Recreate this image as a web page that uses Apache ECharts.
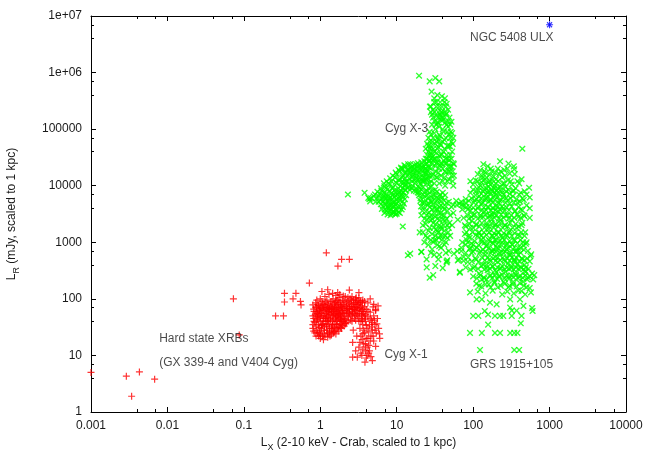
<!DOCTYPE html>
<html><head><meta charset="utf-8">
<script src="https://cdn.jsdelivr.net/npm/echarts@6/dist/echarts.min.js"></script>
<style>html,body{margin:0;padding:0;background:#fff}#c{width:646px;height:451px}</style>
</head><body><div id="c"></div>
<script>
var xTickLabels = ['0.001','0.01','0.1','1','10','100','1000','10000'];
var yTickLabels = ['1','10','100','1000','10000','100000','1e+06','1e+07'];

var hardState = [
[0.001,5],[0.0029,4.3],[0.0043,5.1],[0.0068,3.8],[0.0034,1.9],[0.073,100],[0.087,23],
[0.26,50],[0.33,50],[0.34,125],[0.48,125],[0.34,88],[0.44,100],[0.55,90],[0.56,78],[0.72,190],
[1.2,650],[1.7,380],[1.9,500],[2.4,500],[1.05,135],[1.25,145],[1.69,129],[2.4,143],[3.2,129]
];
var cygX1 = [
[0.8,30],[0.82,45],[0.83,60],[0.85,38],[0.86,52],[0.88,70],[0.9,28],[0.9,42],[0.92,55],[0.93,80],
[0.95,35],[0.96,48],[0.97,65],[0.98,25],[1.0,40],[1.0,58],[1.02,75],[1.03,30],[1.05,50],[1.05,90],
[1.07,22],[1.08,36],[1.1,45],[1.1,62],[1.12,80],[1.13,28],[1.15,55],[1.16,40],[1.18,70],[1.2,33],
[1.2,48],[1.22,95],[1.24,25],[1.25,60],[1.27,42],[1.28,78],[1.3,35],[1.3,52],[1.32,68],[1.34,22],
[1.35,45],[1.37,88],[1.4,30],[1.4,58],[1.42,72],[1.45,40],[1.45,50],[1.47,100],[1.5,26],[1.5,65],
[1.52,82],[1.55,36],[1.55,55],[1.58,46],[1.6,70],[1.62,92],[1.65,30],[1.65,60],[1.68,42],[1.7,78],
[1.72,52],[1.75,105],[1.78,35],[1.8,65],[1.82,88],[1.85,48],[1.88,58],[1.9,72],[1.92,40],[1.95,95],
[2.0,55],[2.0,80],[2.05,45],[2.1,66],[2.12,110],[2.15,36],[2.2,75],[2.25,58],[2.3,90],[2.35,48],
[2.4,68],[2.45,100],[2.5,42],[2.55,80],[2.6,60],[2.65,52],[2.7,95],[2.75,72],[2.8,45],[2.85,85],
[2.9,62],[2.95,105],[3.0,55],[3.05,78],[3.1,92],[3.2,48],[3.25,68],[3.3,85],[3.4,40],[3.45,60],
[3.5,75],[3.6,95],[0.85,25],[0.95,22],[1.0,20],[1.1,19],[1.25,21],[1.4,23],[1.6,24],[1.75,27],
[1.9,30],[2.05,33],[2.2,38],[1.3,60],[1.4,65],[1.5,60],[1.6,52],[1.7,62],[1.8,55],[1.2,65],
[1.1,70],[1.0,68],[0.9,60],[1.35,75],[1.55,78],[1.75,85],[1.95,68],[2.2,62],[2.4,55],[2.6,72],
[2.8,65],[3.0,70],[1.25,40],[1.45,35],[1.65,48],[1.85,42],[1.05,35],[0.92,48],
[0.9,95],[1.0,100],[1.15,110],[1.3,120],[1.45,125],[1.6,115],[1.8,120],[2.0,112],[2.3,105],[2.6,110],
[2.9,100],[3.2,104],[0.8,78],[0.87,85],[0.95,76],[1.07,84],[1.18,88],[1.25,82],[1.42,90],[1.58,86],
[1.68,95],[1.85,78],[2.05,92],[2.2,86],[2.38,82],[2.55,95],[2.72,85],[2.95,88],[3.15,80],[3.35,92],
[3.55,86],[0.82,66],[0.89,72],[0.98,62],[1.06,66],[1.14,74],[1.23,70],[1.33,64],[1.44,68],[1.53,72],
[1.63,66],[1.73,70],[1.86,74],[1.98,62],[2.1,72],[2.28,68],[2.45,74],[2.62,66],[2.85,72],[3.1,64],
[3.35,70],[3.6,66],[3.8,72],[0.8,50],[0.88,56],[0.96,52],[1.04,56],[1.12,50],[1.2,54],[1.28,58],
[1.38,52],[1.48,56],[1.6,50],[1.7,56],[1.82,52],[1.95,56],[2.08,50],[2.22,54],[2.38,58],[2.52,50],
[2.68,56],[2.85,52],[3.05,50],[3.25,56],[3.5,52],[3.75,50],[0.83,40],[0.91,44],[1.0,46],[1.09,41],
[1.17,45],[1.26,47],[1.36,42],[1.5,44],[1.62,40],[1.75,45],[1.9,43],[2.0,40],[2.12,44],[2.3,42],
[2.6,40],[2.9,42],[3.2,40],[3.55,42],[3.85,44],[0.8,35],[0.88,33],[0.97,31],[1.05,34],[1.13,32],
[1.22,36],[1.32,30],[1.42,33],[1.52,31],[1.62,35],[1.72,32],[1.85,36],[1.95,34],[2.1,37],[0.82,27],
[0.92,25],[1.02,27],[1.12,24],[1.22,28],[1.32,26],[1.45,28],[1.55,27],[1.7,29],[1.85,31],[0.88,22],
[1.0,23],[1.15,22],[1.3,24],[1.5,25],
[3.3,30],[3.5,45],[3.6,35],[3.7,55],[3.8,25],[3.9,40],[4.0,65],[4.0,20],[4.1,30],[4.2,48],
[4.3,15],[4.4,35],[4.5,58],[4.6,22],[4.7,42],[4.8,28],[4.9,72],[5.0,18],[5.0,50],[5.2,35],
[5.3,62],[5.4,25],[5.6,45],[5.8,30],[5.95,24],[6.0,20],[3.53,19],[3.6,12.9],[3.84,7.6],[4.8,8.1],
[3.05,9.3],[2.65,9.3],[2.65,17],[5.3,14.5],[3.4,11],[3.7,16],[4.1,10],[4.4,12],[4.6,9.5],[3.2,14],
[2.9,12],[3.0,22],[2.7,28],[5.0,80],[5.3,65],[4.2,85],[3.8,90],[1.83,46],[2.43,65],[4.5,100],
[5.7,75],[4.0,9],[3.3,17],[3.6,60],[3.9,52],[4.2,60],[4.5,45],[4.8,38],[4.3,26],[4.7,32],[5.1,42],
[5.5,36],[4.0,34],[3.7,28],[3.9,16],[4.2,20],[4.5,18],[4.9,22],[5.2,28],[3.4,22],[3.6,24],[4.1,14],
[3.5,10],[3.9,12],[4.3,11]
];
var cygX3 = [
[2.3,7000],[3.8,7500],[4.25,6100],[4.5,5300],[4.4,5800],[4.6,6000],
[5.0,6500],[5.3,5200],[5.6,7800],[5.8,5200],[6.2,4700],[6.0,7200],[6.5,6000],[6.8,7500],[7,5000],
[7.2,9000],[7.5,4200],[7.5,6500],[7.8,11000],[8,3600],[8,5500],[8.2,8000],[8.5,4500],[8.5,12000],
[8.8,3400],[8.8,6800],[9,9500],[9.2,5000],[9.5,14000],[9.5,3800],[9.8,7500],[10,11000],[10,16000],
[10.5,6000],[10.5,9000],[11,13000],[11,18000],[11.5,8000],[11.5,11500],[12,15000],[12,20000],
[12.5,10000],[13,13500],[13,17000],[13.5,12000],[14,19000],[14,15500],[15,13000],[15,18000],
[15.5,21000],[16,14500],[16.5,17000],[17,12500],[17,20000],[18,15000],[18.5,18500],[19,13000],
[19,22000],[20,16000],[20.5,11000],[21,19000],[22,14000],[22,23000],[23,12000],[24,17000],
[7,3800],[7.8,4000],[9,4400],[10,4800],[11,5500],[12,6500],[13,8500],[11,3300],[12,4200],[10,3200],
[5.2,7000],[5.5,6000],[5.8,6600],[6.1,5600],[6.3,8200],[6.6,4400],[6.7,6800],[6.9,9800],[7.1,5800],
[7.3,7200],[7.4,3600],[7.6,8600],[7.7,5300],[7.9,4700],[8.1,10500],[8.3,6200],[8.4,3900],[8.6,7400],
[8.7,9000],[8.9,5200],[9.1,3500],[9.3,6300],[9.4,8400],[9.6,4600],[9.7,11500],[9.9,5700],[10.2,7000],
[10.4,4200],[10.6,12500],[10.8,7800],[11.2,9800],[11.4,6600],[10.1,3700],[9.2,3300],[8.6,3200],
[6.4,3900],[6.9,3300],[7.6,3100],[8.3,3000],[9.6,3100],[10.6,3400],[11.6,3800],[12.4,4800],[12.8,5800],
[13.3,6800],[12.2,7600],[11.1,4300],[11.9,5300],[10.9,6400],[11.7,7200],[10.3,5300],[9.4,4300],
[8.1,4400],[7.2,4600],[6.6,5200],[7.0,6300],[7.9,6000],[8.7,5800],[9.7,6700],[10.7,7500],[12.8,8400],
[13.8,9200],[14.8,8500],[15.8,9000],[16.8,8200],[17.8,8000],[18.8,7600],[19.6,6800],[20.4,5400],
[20.8,4300],[21.6,3600],[6.2,9000],[6.8,11000],[7.4,12000],[8.2,13500],[8.9,15000],[9.7,17000],
[10.6,19000],[11.4,21000],[12.6,23000],[14.1,24000],[16,22000],[18,24000],[20,23000],[22,21000],
[24,24000],[26,27000],[28,30000],
[11.8,14000],[12.3,11500],[12.7,16500],[13.2,12000],[13.6,19000],[14.2,11000],[14.6,16000],
[15.2,20000],[15.8,12000],[16.2,15500],[16.8,19500],[17.4,11000],[17.8,16500],[18.2,13500],
[18.8,20500],[19.4,11500],[19.8,17500],[20.4,14000],[21,21000],[21.5,12000],[22.5,16500],[23.5,20000],
[24.5,13000],[25,19000],[26,15000],[26.5,21000],[27,11000],[12,9000],[13,10500],[14.5,9500],[16,10000],
[18,9000],[19.5,9500],[11.5,20000],[13,22000],[15,24000],[17,23000],[19,25000],[21,26000],[23,27000],
[25,30000],[27,28000],[29,32000],
[20,9000],[22,7000],[23,5000],[24,3500],[25,8000],[25,2500],[26,6000],[27,4200],[27,1800],[28,9500],
[28,3000],[29,5200],[29,1400],[30,7000],[30,2200],[31,4000],[31,1100],[32,8500],[32,2800],[33,1700],
[34,5500],[34,900],[35,3300],[36,2000],[36,6500],[37,1300],[38,4500],[38,800],[40,2500],[40,7500],
[42,1600],[42,3800],[44,1000],[45,5000],[46,2000],[48,700],[50,3000],[22,2000],[24,1300],[26,900],
[28,650],[23,1000],[21,3000],[26,4800],[33,3900],[35,1500],[29,2600],[39,1100],[43,2400],
[19.5,7500],[20.5,6000],[21,8500],[21.5,5000],[22,9500],[22.5,4200],[23,6500],[23.5,8000],[24,5500],
[24.5,3000],[25,6800],[25.5,4500],[26,9000],[26.5,3400],[27,7500],[27.5,5400],[28,2400],[28.5,6200],
[29,3800],[29.5,8200],[30,4600],[30.5,1800],[31,5800],[31.5,3200],[32,6800],[32.5,2100],[33,4800],
[33.5,7800],[34,2600],[34.5,3800],[35,5800],[35.5,1200],[36,4200],[36.5,2500],[37,7000],[37.5,3300],
[38,5300],[38.5,1700],[39,3000],[39.5,6200],[40,4200],[41,2000],[41.5,5500],[42,3000],[43,6800],
[43,1300],[44,4300],[45,2600],[46,3600],[47,1500],[48,5200],[49,2200],[50,1300],[52,4200],[53,2000],
[55,3300],[24,2100],[26,1600],[27,2800],[25,1200],[30,1000],[32,1300],[34,1600],[36,850],[29,750],
[31,600],[33,1100],[38,1900],[40,1300],[42,900],[44,650],[46,1200],[48,1800],[35,500],[28,1100],
[22,1500],[23,2600],
[20,1500],[14,590],[21,670],[27,237],[32,380],[45,460],[24.7,360],[24.6,500],[30,263],[46,480],
[15,630],[21,680],[12,1900],[36,600],[40,350],
[22,12000],[24,16000],[25,25000],[26,13000],[27,35000],[28,20000],[28,50000],[29,15000],[30,28000],
[30,70000],[31,40000],[32,18000],[32,100000],[33,25000],[33,60000],[34,14000],[34,45000],[35,130000],
[35,30000],[36,80000],[36,20000],[37,55000],[38,35000],[38,160000],[39,24000],[40,100000],[40,12000],
[41,40000],[42,65000],[43,18000],[44,30000],[45,120000],[46,50000],[47,22000],[48,80000],[50,35000],
[52,15000],[55,10000],[27,90000],[29,120000],[31,200000],[33,250000],[35,200000],[37,180000],
[39,250000],[42,300000],[28,250000],[30,160000],[44,180000],[47,140000],[52,60000],[55,25000],
[50,120000],[26,70000],[24,45000],[43,10000],[48,13000],[52,135000],[56,24000],
[23,14000],[25,11000],[25,18000],[26,22000],[27,15000],[27,28000],[28,12000],[28,38000],[29,24000],
[29,60000],[30,16000],[30,45000],[31,11000],[31,30000],[31,85000],[32,22000],[32,55000],[33,14000],
[33,38000],[33,120000],[34,26000],[34,70000],[35,17000],[35,48000],[36,11000],[36,34000],[36,110000],
[37,23000],[37,75000],[38,15000],[38,52000],[39,36000],[39,140000],[40,20000],[40,60000],[41,28000],
[41,90000],[42,14000],[42,45000],[43,25000],[43,130000],[44,17000],[44,70000],[45,35000],[46,12000],
[46,90000],[47,30000],[48,18000],[48,50000],[50,22000],[50,70000],[52,30000],[54,18000],[45,25000],
[38,25000],[32,30000],[29,35000],[35,65000],[41,150000],[36,160000],[33,170000],[39,200000],
[30,220000],[44,250000],[37,300000],[34,130000],[47,110000],[49,160000],
[24,20000],[25,35000],[26,50000],[27,60000],[28,80000],[53,40000],[54,55000],[55,70000],[51,90000],
[50,50000],[53,85000],[24,30000],[26,40000],[25,55000],[27,45000],[48,28000],[50,18000],[52,22000],
[54,12000],[56,15000],[29,180000],[31,140000],[33,300000],[36,250000],[38,200000],[40,160000],
[42,200000],[45,280000],[34,400000],[39,380000],[31,300000],[28,200000],[47,220000],
[19.6,880000],[27,700000],[32,800000],[36,700000],[28.6,460000],[31,350000],[27.2,250000],
[42.7,350000],[45,190000]
];
var grs1915 = [
[440,45000],[136,24000],[225,27000],[290,24600],[345,19500],[340,22000],[430,13000],[400,11000],
[330,8000],[540,9200],[550,6200],[550,4000],[550,2700],[490,940],[575,610],[590,280],[630,263],
[590,69],[550,155],[63,2500],[56,630],[63,480],[67,300],[92,12000],[60,5400],
[55,4600],[61,4600],[66,4800],[71,4600],[75,4400],[80,5000],[85,3800],[90,4200],
[78,2000],[82,1500],[88,2600],[92,1800],[96,2400],[85,1000],[92,800],
[100,3000],[105,5500],[110,8000],[110,2000],[115,12000],[115,4000],[120,1500],[120,6500],[125,10000],
[125,2800],[130,15000],[130,4800],[135,8000],[135,1200],[140,3500],[140,18000],[145,6000],[145,11000],
[150,2200],[150,14000],[155,4200],[155,7500],[160,1700],[160,9500],[165,3000],[165,12000],[170,5500],
[170,20000],[175,2500],[175,8500],[180,4000],[180,1300],[185,6500],[190,10000],[190,3200],[195,2000],
[200,7000],[200,13000],[205,4500],[210,1500],[210,9000],[215,3500],[220,5500],[220,16000],
[230,2500],[240,7500],[240,1200],[250,4000],[255,11000],[260,2000],[270,6000],[275,900],[280,3000],
[290,8500],[300,1600],[300,4800],[310,12000],[320,2500],[330,6500],[340,1100],[350,3500],[360,9000],
[370,1800],[380,5000],[390,2800],[400,7000],[410,1300],[420,3800],[430,2000],[440,6000],[450,1000],
[460,3000],[480,1500],[500,4500],[470,8000],[260,15000],[230,18000],[280,20000],[350,16000],[300,600],
[380,700],
[70,700],[75,550],[80,900],[85,450],[90,1200],[95,650],[100,350],[100,900],[110,500],[115,1300],
[120,280],[125,700],[130,1000],[135,400],[140,230],[145,600],[150,850],[155,320],[160,1100],[165,500],
[170,260],[175,700],[180,380],[185,950],[190,200],[195,550],[200,300],[205,800],[210,450],[215,250],
[220,650],[230,350],[240,1000],[250,200],[255,500],[265,300],[275,750],[285,420],[295,250],[305,600],
[315,350],[325,900],[335,200],[345,500],[355,280],[365,700],[375,400],[390,600],[400,250],[415,800],
[425,350],[440,500],[450,200],[470,400],[490,300],[510,220],[160,180],[120,170],[210,160],[300,170],
[130,220],[180,700],[250,650],[350,450],[280,1300],[200,1100],[105,750],[150,400],
[115,16000],[125,19000],[135,14000],[145,17000],[155,22000],[165,15500],[175,18000],[185,14500],
[195,17000],[210,20000],[240,14000],[255,19000],[300,16500],
[100,10500],[108,12500],[118,9500],[128,11500],[138,12500],[148,9000],[158,11500],[168,10500],
[178,12500],[188,9000],[198,11000],[212,12000],[228,9500],[245,11000],[265,9500],[285,12500],
[320,10500],[380,12000],
[92,7500],[100,8500],[108,6800],[118,8200],[128,7200],[138,8800],[148,7000],[158,8200],[168,7000],
[178,8000],[192,7600],[205,8200],[218,7200],[232,8600],[250,7000],[270,8000],[300,7200],[340,8200],
[420,7500],[500,7000],
[70,5200],[80,5800],[88,5400],[95,6000],[102,5000],[110,5800],[118,5200],[126,6000],[134,5000],
[142,5600],[150,6200],[160,5200],[170,5800],[180,5000],[192,5600],[205,6200],[218,5000],[232,5600],
[248,6200],[265,5000],[285,5600],[310,6000],[340,5000],[370,5800],[410,5200],[460,5600],
[72,3800],[82,4200],[92,3600],[100,4100],[108,3700],[118,4300],[128,3600],[138,4100],[148,3700],
[158,4200],[170,3600],[182,4100],[195,3700],[208,4200],[222,3800],[238,4300],[255,3600],[275,4100],
[295,3700],[320,4300],[355,3600],[395,4200],[440,3700],
[75,2700],[85,3000],[95,2800],[105,3100],[115,2600],[125,3000],[135,2800],[145,3100],[155,2700],
[165,2900],[178,3100],[190,2700],[202,3000],[216,2600],[232,3100],[250,2700],[268,3000],[290,2600],
[315,3000],[345,2700],[380,3100],[420,2700],[470,2900],
[80,1900],[90,2100],[100,1800],[110,2100],[120,1900],[130,2200],[140,1800],[150,2000],[162,1900],
[174,2200],[186,1800],[198,2100],[212,1900],[228,2200],[244,1800],[262,2000],[282,1900],[305,2200],
[330,1800],[360,2100],[395,1900],[440,2200],
[78,1400],[88,1300],[98,1500],[108,1350],[118,1450],[128,1300],[138,1500],[150,1350],[162,1500],
[175,1300],[188,1450],[202,1350],[218,1500],[235,1300],[252,1450],[272,1350],[295,1500],[320,1300],
[350,1450],[385,1350],[425,1500],[470,1300],
[72,1000],[82,1100],[95,950],[105,1050],[118,900],[128,1100],[140,980],[152,900],[165,1050],
[178,980],[192,1100],[206,920],[222,1050],[238,880],[256,1100],[278,950],[300,1050],[325,900],
[352,1080],[380,960],[415,1100],[455,880],[500,1000],
[62,700],[70,800],[80,650],[90,760],[100,680],[112,800],[122,650],[134,740],[146,680],[158,780],
[170,640],[184,750],[198,680],[212,790],[228,640],[246,740],[264,680],[284,800],[306,650],[330,760],
[356,690],[385,800],[420,650],[460,740],[520,700],
[65,500],[75,470],[86,540],[96,460],[106,520],[118,450],[130,540],[142,480],[155,530],[168,460],
[182,520],[196,470],[210,540],[226,480],[242,530],[260,460],[280,520],[300,470],[322,540],[346,480],
[372,530],[400,460],[432,520],[468,480],[510,520],[550,460],
[80,360],[92,330],[104,370],[116,340],[128,380],[140,330],[152,360],[166,340],[180,370],[194,320],
[208,360],[224,340],[240,380],[258,330],[276,360],[296,340],[318,380],[340,330],[364,360],[390,340],
[420,370],[455,330],[490,360],[530,340],
[100,250],[112,230],[124,260],[138,240],[150,220],[164,255],[178,235],[192,265],[206,225],[222,250],
[238,270],[256,230],[274,255],[294,225],[316,260],[338,240],[362,265],[388,230],[416,255],[446,235],
[480,260],[520,240],
[110,185],[128,165],[145,180],[170,160],[190,190],[230,170],[260,185],[290,160],[330,180],[370,165],
[410,190],[460,170],[500,160],
[115,135],[145,125],[180,140],[240,120],[280,135],[340,125],[390,140],[480,120],
[45,440],[67,290],[91,130],[111,98],[130,98],[166,86],[203,80],[305,98],[410,98],[142,61],[157,53],
[100,50],[117,50],[193,50],[225,50],[248,50],[320,50],[430,50],[320,62],[370,62],[157,35],[420,37],
[600,61],[455,75],[91,25],[130,25],[193,25],[225,25],[305,25],[345,25],[380,25],[123,12.5],
[345,12.5],[400,12.5],[560,570],[550,250],[610,220],[475,310],[430,138],[305,70],[570,130]
];
var ulx = [[1000,7000000]];

var annotations = [
  {name:'NGC 5408 ULX', value:[91,4.1e6]},
  {name:'Cyg X-3', value:[7.0,1.03e5]},
  {name:'Hard state XRBs', value:[0.0078,19.5]},
  {name:'(GX 339-4 and V404 Cyg)', value:[0.0078,7.4]},
  {name:'Cyg X-1', value:[6.9,10.2]},
  {name:'GRS 1915+105', value:[91,6.8]}
];

var PLUS = 'path://M-0.6,-3.5L0.6,-3.5L0.6,-0.6L3.5,-0.6L3.5,0.6L0.6,0.6L0.6,3.5L-0.6,3.5L-0.6,0.6L-3.5,0.6L-3.5,-0.6L-0.6,-0.6Z';
var FONT = '"Liberation Sans", Arial, sans-serif';
var TXT = '#1a1a1a';

function xFmt(v){ return xTickLabels[Math.round(Math.log10(v))+3]; }
function yFmt(v){ return yTickLabels[Math.round(Math.log10(v))]; }

var baseX = {type:'log', logBase:10, min:0.001, max:10000, splitNumber:7,
  axisLine:{show:true,lineStyle:{color:'#000',width:1}},
  axisTick:{show:true,inside:true,length:5,lineStyle:{color:'#000'}},
  minorTick:{show:true,splitNumber:3,length:3,lineStyle:{color:'#000'}},
  splitLine:{show:false}, minorSplitLine:{show:false}};
var baseY = {type:'log', logBase:10, min:1, max:1e7, splitNumber:7,
  axisLine:{show:true,lineStyle:{color:'#000',width:1}},
  axisTick:{show:true,inside:true,length:5,lineStyle:{color:'#000'}},
  minorTick:{show:true,splitNumber:3,length:3,lineStyle:{color:'#000'}},
  splitLine:{show:false}, minorSplitLine:{show:false}};

var chart = echarts.init(document.getElementById('c'), null, {renderer:'canvas'});
chart.setOption({
  animation:false,
  backgroundColor:'#fff',
  grid:{left:91,right:20,top:16,bottom:39,containLabel:false,outerBoundsMode:'none'},
  xAxis:[
    Object.assign({}, baseX, {position:'bottom',
      name:'{a|L}{s|X}{a| (2-10 keV - Crab, scaled to 1 kpc)}', nameLocation:'middle', nameGap:20,
      nameTextStyle:{rich:{a:{fontFamily:FONT,fontSize:12,color:TXT},s:{fontFamily:FONT,fontSize:9,color:TXT,padding:[9,0,0,0]}}},
      axisLabel:{show:true,formatter:xFmt,fontFamily:FONT,fontSize:12,color:TXT,margin:8,showMinLabel:true,showMaxLabel:true}}),
    Object.assign({}, baseX, {position:'top', axisLabel:{show:false}})
  ],
  yAxis:[
    Object.assign({}, baseY, {position:'left',
      name:'{a|L}{s|R}{a| (mJy, scaled to 1 kpc)}', nameLocation:'middle', nameGap:70,
      nameTextStyle:{rich:{a:{fontFamily:FONT,fontSize:12,color:TXT},s:{fontFamily:FONT,fontSize:9,color:TXT,padding:[9,0,0,0]}}},
      axisLabel:{show:true,formatter:yFmt,fontFamily:FONT,fontSize:12,color:TXT,margin:9,showMinLabel:true,showMaxLabel:true}}),
    Object.assign({}, baseY, {position:'right', axisLabel:{show:false}})
  ],
  series:[
    {type:'scatter', data:cygX3, symbol:PLUS, symbolSize:8, symbolRotate:45, itemStyle:{color:'#00ff00'}, silent:true},
    {type:'scatter', data:grs1915, symbol:PLUS, symbolSize:8, symbolRotate:45, itemStyle:{color:'#00ff00'}, silent:true},
    {type:'scatter', data:hardState, symbol:PLUS, symbolSize:7, itemStyle:{color:'#ff0000'}, silent:true},
    {type:'scatter', data:cygX1, symbol:PLUS, symbolSize:7, itemStyle:{color:'#ff0000'}, silent:true},
    {type:'scatter', data:ulx, symbol:PLUS, symbolSize:7, itemStyle:{color:'#0000ff'}, silent:true},
    {type:'scatter', data:ulx, symbol:PLUS, symbolSize:7, symbolRotate:45, itemStyle:{color:'#0000ff'}, silent:true},
    {type:'scatter', data:annotations, symbolSize:0, silent:true, z:10,
      label:{show:true, position:'right', distance:0, formatter:'{b}', fontFamily:FONT, fontSize:12, color:TXT}}
  ]
});
</script></body></html>
